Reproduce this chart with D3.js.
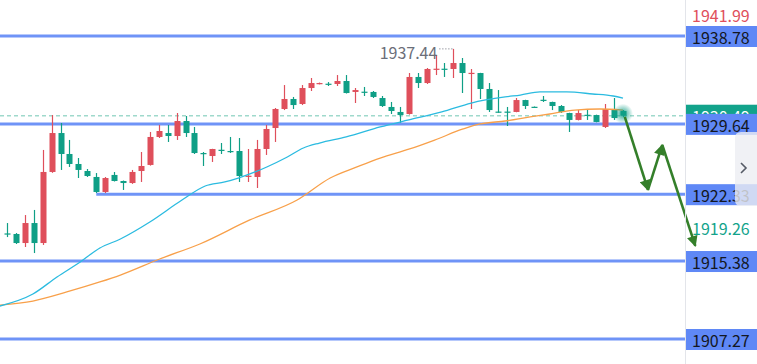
<!DOCTYPE html>
<html>
<head>
<meta charset="utf-8">
<script src="https://cdn.jsdelivr.net/npm/d3@7"></script>
<style>
body { margin: 0; background: #fff; overflow: hidden; }
svg { display: block; }
text { font-family: "Noto Sans CJK SC", "Noto Sans", sans-serif; }
</style>
</head>
<body>
<svg width="757" height="364"></svg>
<script>
var svg = d3.select("svg"),
  width = +svg.attr("width"),
  height = +svg.attr("height");

// candles (red = up, green = down)
var opens = [1918.25,1918.19,1917.25,1919.33,1917.25,1924.64,1928.69,1926.51,1925.47,1924.74,
  1924.12,1922.56,1924.33,1923.70,1923.49,1924.74,1925.37,1928.28,1928.69,1928.38,
  1929.94,1928.69,1926.61,1926.30,1926.95,1926.82,1926.82,1924.15,1924.12,1927.03,
  1929.21,1931.19,1932.23,1931.71,1933.37,1933.80,1933.82,1933.79,1934.10,1932.96,
  1932.99,1932.96,1932.33,1931.40,1930.88,1930.67,1934.52,1933.89,1935.30,1935.38,
  1935.35,1935.97,1934.88,1934.93,1933.27,1930.92,1930.92,1930.88,1932.12,1931.42,
  1932.15,1931.92,1931.50,1930.77,1930.05,1930.59,1930.56,1929.32,1931.19,1930.98];
var highs = [1919.33,1918.29,1920.16,1920.69,1926.93,1930.56,1929.73,1927.97,1926.09,1924.95,
  1924.53,1924.12,1924.64,1923.75,1924.85,1926.72,1928.80,1929.53,1929.53,1930.77,
  1930.46,1929.32,1926.72,1927.05,1927.65,1928.28,1928.17,1927.03,1927.97,1929.53,
  1931.29,1933.68,1932.44,1933.68,1934.41,1933.94,1933.99,1934.72,1934.72,1933.37,
  1933.48,1933.06,1932.54,1931.92,1931.40,1934.93,1934.93,1935.45,1936.80,1935.97,
  1937.44,1936.49,1935.35,1934.95,1933.89,1933.16,1931.40,1932.33,1932.15,1931.45,
  1932.54,1931.95,1931.60,1930.80,1931.08,1931.19,1930.60,1931.71,1932.33,1931.08];
var lows = [1917.87,1917.15,1916.84,1916.21,1917.05,1924.55,1924.85,1925.16,1924.01,1924.12,
  1922.45,1922.45,1923.65,1922.77,1923.40,1923.60,1925.30,1928.17,1927.76,1927.97,
  1928.28,1926.51,1925.26,1925.68,1926.51,1926.61,1923.60,1923.60,1922.97,1926.41,
  1927.76,1931.08,1931.19,1931.60,1933.06,1933.75,1933.58,1933.58,1932.80,1931.81,
  1932.54,1932.33,1931.40,1930.67,1929.73,1930.60,1933.37,1933.79,1934.72,1934.52,
  1934.41,1932.85,1931.19,1932.23,1930.88,1930.80,1929.42,1930.85,1931.19,1931.35,
  1931.92,1931.08,1930.77,1928.80,1930.00,1930.05,1929.80,1929.21,1930.05,1930.36];
var closes = [1918.15,1917.25,1919.33,1917.25,1924.64,1928.69,1926.51,1925.47,1924.85,1924.22,
  1922.56,1924.01,1923.70,1923.49,1924.64,1925.26,1928.28,1928.90,1928.38,1929.94,
  1928.69,1926.61,1926.51,1927.03,1926.90,1926.72,1924.22,1924.25,1927.03,1929.11,
  1931.19,1932.23,1931.60,1933.37,1933.89,1933.89,1933.76,1934.10,1932.85,1933.16,
  1932.93,1932.44,1931.50,1930.98,1930.56,1934.52,1933.89,1935.35,1935.38,1935.30,
  1935.97,1934.93,1934.95,1933.27,1931.08,1930.85,1930.85,1932.12,1931.50,1931.38,
  1932.09,1931.50,1930.88,1930.05,1930.77,1930.53,1929.84,1931.19,1930.25,1930.49];

// moving averages as [candle index, price]
var maFast = [[-0.8,1910.70],[2.9,1911.95],[5.6,1913.72],[8.2,1915.28],[10.4,1916.73],[12.7,1917.67],
  [16,1919.44],[19.6,1921.72],[22.2,1923.18],[24.4,1923.60],[25.9,1924.01],[27.8,1924.64],
  [29.1,1925.16],[31.4,1926.20],[33.2,1927.13],[35,1927.65],[38,1928.28],[41.8,1929.32],
  [45,1930.05],[48.7,1930.88],[52,1931.81],[55.8,1932.44],[57.5,1932.64],[59.7,1932.96],
  [62.7,1932.96],[65.6,1932.75],[67.9,1932.54],[69,1932.33]];
var maSlow = [[-0.8,1910.80],[2.9,1911.22],[6.7,1912.16],[10.4,1913.20],[12.7,1913.92],[17.1,1915.59],
  [21.6,1917.15],[27.2,1919.65],[32.5,1921.72],[36.2,1924.01],[39.2,1925.16],[41.8,1926.09],
  [45.1,1927.03],[47.9,1927.96],[51.1,1929.11],[53,1929.63],[55.8,1929.94],[58.6,1930.36],
  [60.8,1930.67],[63.6,1931.08],[66.4,1931.19],[69,1931.08]];

// horizontal levels, start = candle index where the ray begins (null = full width)
var levels = [1938.78, 1929.64, 1922.33, 1915.38, 1907.27];
var levelStart = [null, null, 10, null, null];

var lastPrice = 1930.49;
var highIdx = 50, highMark = 1937.44;
var topPrice = 1941.99, lowPrice = 1919.26;
var arrowPts = [[69.2,1930.36],[71.8,1922.77],[73.4,1927.45],[77.1,1916.95]];

var upColor = "#df4f5b", downColor = "#0f9f86", levelColor = "#5f88f6";
var plotRight = 685;

var x = d3.scaleLinear().domain([0, 69]).range([7, 623]);
var y = d3.scaleLinear().domain([1907.27, 1938.78]).range([339, 36]);

var defs = svg.append("defs");
defs.append("clipPath").attr("id", "plot").append("rect")
  .attr("x", 0).attr("y", 0).attr("width", plotRight).attr("height", height);
var glow = defs.append("radialGradient").attr("id", "glow");
glow.append("stop").attr("offset", "0%").attr("stop-color", "#0f9f86").attr("stop-opacity", 0.95);
glow.append("stop").attr("offset", "45%").attr("stop-color", "#0f9f86").attr("stop-opacity", 0.5);
glow.append("stop").attr("offset", "100%").attr("stop-color", "#0f9f86").attr("stop-opacity", 0);
var mk = defs.append("marker").attr("id", "head").attr("viewBox", "0 0 10 10")
  .attr("refX", 9).attr("refY", 5).attr("markerWidth", 4.6).attr("markerHeight", 4.2)
  .attr("orient", "auto").attr("markerUnits", "strokeWidth");
mk.append("path").attr("d", "M0,0L10,5L0,10z").attr("fill", "#347f2a");

var g = svg.append("g").attr("clip-path", "url(#plot)");

// current price dashed line
g.append("line")
  .attr("x1", 0).attr("x2", plotRight)
  .attr("y1", y(lastPrice)).attr("y2", y(lastPrice))
  .attr("stroke", "#9fd9cc").attr("stroke-width", 1.5).attr("stroke-dasharray", "4,3");

// level lines
g.selectAll(".lvl").data(levels).enter().append("line")
  .attr("class", "lvl")
  .attr("x1", function (d, i) { return levelStart[i] == null ? 0 : x(levelStart[i]); })
  .attr("x2", plotRight)
  .attr("y1", function (d) { return y(d); })
  .attr("y2", function (d) { return y(d); })
  .attr("stroke", levelColor).attr("stroke-width", 3).attr("stroke-opacity", 0.9);

// candles
var idx = d3.range(opens.length);
var cg = g.append("g");
cg.selectAll(".wick").data(idx).enter().append("line")
  .attr("x1", function (i) { return Math.round(x(i)) + 0.5; })
  .attr("x2", function (i) { return Math.round(x(i)) + 0.5; })
  .attr("y1", function (i) { return y(highs[i]); })
  .attr("y2", function (i) { return y(lows[i]); })
  .attr("stroke", function (i) { return closes[i] >= opens[i] ? upColor : downColor; })
  .attr("stroke-width", 1.2);
cg.selectAll(".body").data(idx).enter().append("rect")
  .attr("x", function (i) { return Math.round(x(i)) - 2.5; })
  .attr("width", 6)
  .attr("y", function (i) { return y(Math.max(opens[i], closes[i])); })
  .attr("height", function (i) { return Math.max(1.2, Math.abs(y(opens[i]) - y(closes[i]))); })
  .attr("fill", function (i) { return closes[i] >= opens[i] ? upColor : downColor; });

// moving averages
var line = d3.line()
  .x(function (d) { return x(d[0]); })
  .y(function (d) { return y(d[1]); })
  .curve(d3.curveMonotoneX);
g.append("path").datum(maSlow).attr("d", line)
  .attr("fill", "none").attr("stroke", "#f8a04a").attr("stroke-width", 1.3);
g.append("path").datum(maFast).attr("d", line)
  .attr("fill", "none").attr("stroke", "#2bbbe0").attr("stroke-width", 1.3);

// high marker
g.append("text")
  .attr("x", x(highIdx) - 16).attr("y", y(highMark) + 3)
  .attr("text-anchor", "end").attr("dominant-baseline", "central")
  .attr("font-size", 16).attr("fill", "#6b6e79")
  .text(highMark.toFixed(2));
g.append("line")
  .attr("x1", x(highIdx) - 14).attr("x2", x(highIdx))
  .attr("y1", y(highMark)).attr("y2", y(highMark))
  .attr("stroke", "#6b6e79").attr("stroke-width", 1).attr("stroke-dasharray", "1,2");

// glow at last price
svg.append("circle")
  .attr("cx", x(closes.length - 1)).attr("cy", y(lastPrice) - 2)
  .attr("r", 10).attr("fill", "url(#glow)");

// arrows
for (var k = 0; k < arrowPts.length - 1; k++) {
  svg.append("line")
    .attr("x1", x(arrowPts[k][0])).attr("y1", y(arrowPts[k][1]))
    .attr("x2", x(arrowPts[k + 1][0])).attr("y2", y(arrowPts[k + 1][1]))
    .attr("stroke", "#347f2a").attr("stroke-width", 2.6)
    .attr("marker-end", "url(#head)");
}

// right price scale
var ax = svg.append("g");
ax.append("line").attr("x1", plotRight + 0.5).attr("x2", plotRight + 0.5)
  .attr("y1", 0).attr("y2", height).attr("stroke", "#e3e5ea");

// current price tag (mostly hidden under the level tag)
ax.append("rect").attr("x", plotRight + 1).attr("y", y(lastPrice) - 11)
  .attr("width", width - plotRight - 1).attr("height", 21).attr("fill", "#12a38b");
ax.append("text").attr("x", plotRight + 7).attr("y", y(lastPrice))
  .attr("dominant-baseline", "central").attr("font-size", 16).attr("fill", "#fff")
  .text(lastPrice.toFixed(2));

var tags = ax.selectAll(".tag").data(levels).enter().append("g");
tags.append("rect")
  .attr("x", plotRight + 1).attr("y", function (d) { return y(d) - 10; })
  .attr("width", width - plotRight - 1).attr("height", 21)
  .attr("fill", levelColor);
tags.append("text")
  .attr("x", plotRight + 7).attr("y", function (d) { return y(d) + 1; })
  .attr("dominant-baseline", "central").attr("font-size", 16).attr("fill", "#131722")
  .text(function (d) { return d.toFixed(2); });

ax.append("text").attr("x", plotRight + 7).attr("y", Math.max(y(topPrice), 15))
  .attr("dominant-baseline", "central").attr("font-size", 16).attr("fill", "#e0505c")
  .text(topPrice.toFixed(2));
ax.append("text").attr("x", plotRight + 7).attr("y", y(lowPrice) + 4)
  .attr("dominant-baseline", "central").attr("font-size", 16).attr("fill", "#12a38b")
  .text(lowPrice.toFixed(2));

// scroll button
ax.append("path")
  .attr("d", "M757,132 H741 Q735,132 735,138 V200 Q735,206 741,206 H757 Z")
  .attr("fill", "#eceef2").attr("fill-opacity", 0.8);
ax.append("path").attr("d", "M741,163 L746,168 L741,173")
  .attr("fill", "none").attr("stroke", "#555a66").attr("stroke-width", 1.6);
</script>
</body>
</html>
